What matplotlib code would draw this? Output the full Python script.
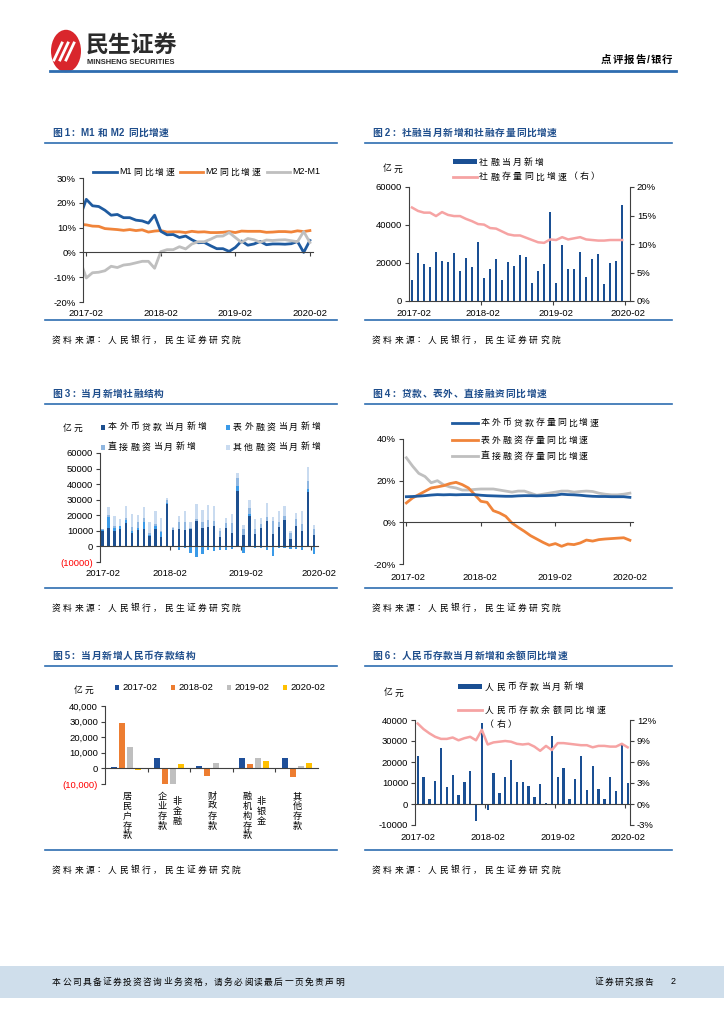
import numpy as np
import matplotlib.pyplot as plt
from matplotlib.lines import Line2D
from matplotlib.patches import Rectangle, Circle
from matplotlib.ticker import FuncFormatter
from matplotlib.transforms import blended_transform_factory

plt.rcParams['font.family'] = ['Liberation Sans', 'Noto Sans CJK SC', 'DejaVu Sans']
plt.rcParams['axes.unicode_minus'] = False

date_ticks = ["2017-02", "2018-02", "2019-02", "2020-02"]

# 图1 M1/M2, 2017-01 ~ 2020-02 (%)
m1_yoy = [14.5, 21.4, 18.8, 18.5, 17.0, 15.0, 15.3, 14.0, 14.0, 13.0, 12.7, 11.8,
          15.0, 8.5, 7.1, 7.2, 6.0, 6.6, 5.1, 3.9, 4.0, 2.7, 1.5, 1.5,
          0.4, 2.0, 4.6, 2.9, 3.4, 4.4, 3.1, 3.4, 3.4, 3.3, 3.5, 4.4,
          0.0, 4.8]
m2_yoy = [11.3, 11.1, 10.6, 10.5, 9.6, 9.4, 9.2, 8.9, 9.2, 8.8, 9.1, 8.2,
          8.6, 8.8, 8.2, 8.3, 8.3, 8.0, 8.5, 8.2, 8.3, 8.0, 8.0, 8.1,
          8.4, 8.0, 8.6, 8.5, 8.5, 8.5, 8.1, 8.2, 8.4, 8.4, 8.2, 8.7,
          8.4, 8.8]
m2_m1 = [-3.2, -10.3, -8.2, -8.0, -7.4, -5.6, -6.1, -5.1, -4.8, -4.2, -3.6, -3.6,
         -6.4, 0.3, 1.1, 1.1, 2.3, 1.4, 3.4, 4.3, 4.3, 5.3, 6.5, 6.6,
         8.0, 6.0, 4.0, 5.6, 5.1, 4.1, 5.0, 4.8, 5.0, 5.1, 4.7, 4.3,
         8.4, 4.0]

# 图2 社融, 2017-02 ~ 2020-01
tsf_new = [11000, 25300, 19500, 17800, 25700, 21000, 20500, 25300, 15700, 22800, 18000,
           31200, 12000, 17000, 22000, 11000, 20300, 18300, 24000, 23000, 9500, 16000, 19400,
           47000, 9700, 29600, 16600, 17000, 26000, 12700, 22000, 25000, 8700, 20000, 21000,
           50700]
tsf_yoy = [16.4, 15.8, 15.5, 15.5, 14.9, 15.6, 15.1, 14.9, 14.9, 14.4, 14.0,
           13.5, 13.4, 12.8, 12.7, 12.2, 11.7, 11.5, 11.5, 11.1, 10.7, 10.3, 10.2,
           10.8, 10.7, 11.2, 10.8, 11.0, 11.2, 10.8, 10.7, 10.6, 10.6, 10.7, 10.7,
           10.7]

# 图3 社融结构, 2017-02 ~ 2020-02
loan_new = [10000, 11800, 10000, 11400, 14800, 8700, 10400, 11000, 6600, 11200, 5800,
            27000, 10400, 11000, 10600, 11000, 16200, 12000, 12700, 13400, 6300, 11600, 8800,
            35700, 7500, 19500, 8300, 11800, 16600, 7700, 12500, 17000, 5000, 13300, 10200,
            35000, 7500]
offbal_new = [500, 7000, 2000, 1500, 2000, 1000, 1500, 4500, 500, 2000, 3500,
              1000, -500, -2500, -1000, -4500, -7000, -5000, -2500, -3000, -2500, -2000, -1500,
              3000, -4000, 1500, -1000, -1000, -2000, -6000, -1000, -1000, -1500, -1500, -2000,
              2000, -5000]
direct_new = [500, 1500, 1000, 500, 1500, 3000, 3500, 2500, 1500, 1500, 500,
              1500, 1500, 5000, 5000, 1000, 1500, 3500, 4000, 3000, 3500, 3500, 6000,
              5000, 4000, 3500, 3000, 2500, 2500, 8500, 3000, 2500, 3500, 4000, 4000,
              5000, 4000]
other_new = [0, 5000, 6500, 4400, 7400, 8300, 5100, 7300, 7100, 8100, 8200,
             1700, 600, 3500, 7400, 3500, 9600, 7800, 9800, 9600, 2200, 2900, 6100,
             3300, 2200, 5100, 6300, 3700, 8900, 2500, 7500, 6500, 1700, 4200, 8800,
             8700, 2000]

# 图4 存量同比, 2017-02 ~ 2020-02 (%)
loan_yoy = [12.3, 12.4, 12.6, 12.8, 13.1, 13.3, 13.2, 13.3, 13.2, 13.3, 13.3,
            13.3, 13.0, 12.8, 12.7, 12.6, 12.5, 12.5, 12.7, 12.8, 12.8, 12.7, 12.8,
            12.9, 13.0, 13.5, 13.3, 13.2, 13.0, 12.7, 12.5, 12.4, 12.4, 12.3, 12.3,
            12.3, 12.0]
offbal_yoy = [9.3, 11.7, 13.3, 14.9, 16.5, 17.0, 17.6, 18.6, 19.2, 18.1, 16.5,
              13.3, 10.1, 9.6, 5.6, 4.5, 2.9, -0.3, -2.4, -4.3, -6.4, -8.0, -9.6,
              -11.0, -10.2, -11.5, -10.4, -10.7, -9.9, -8.5, -9.0, -8.3, -8.0, -7.8, -7.6,
              -7.4, -8.6]
direct_yoy = [31.0, 27.0, 23.5, 22.0, 19.0, 20.0, 18.0, 17.0, 16.5, 15.5, 15.5,
              15.8, 16.0, 16.0, 16.0, 15.5, 15.0, 14.5, 15.0, 15.0, 14.0, 13.0, 13.5,
              14.0, 14.5, 15.0, 15.0, 14.5, 14.8, 15.0, 14.8, 14.0, 13.5, 13.2, 13.2,
              13.5, 14.0]

# 图5 存款结构 (亿元)
dep_years = ["2017-02", "2018-02", "2019-02", "2020-02"]
dep_2017 = [1000, 6800, 1500, 6900, 6900]
dep_2018 = [29000, -10400, -5000, 3000, -5500]
dep_2019 = [13500, -10300, 3200, 6800, 1700]
dep_2020 = [-1000, 2700, 0, 4800, 3300]

# 图6 人民币存款, 2017-02 ~ 2020-02
dep_new = [23000, 12700, 2500, 11000, 26500, 8000, 13600, 4200, 10500, 15700, -8000,
           38500, -3000, 15000, 5200, 12800, 20800, 10300, 10700, 8800, 3300, 9300, 700,
           32500, 13000, 17000, 2500, 12000, 22700, 6500, 18000, 7200, 2300, 13000, 6000,
           28500, 10000]
dep_yoy = [11.5, 10.7, 10.1, 9.6, 9.3, 9.3, 9.5, 9.1, 9.4, 9.6, 9.1,
           10.6, 8.5, 8.8, 8.9, 9.0, 8.9, 8.6, 8.5, 8.6, 8.2, 7.6, 8.3,
           7.7, 8.7, 8.7, 8.6, 8.5, 8.4, 8.4, 8.1, 8.3, 8.3, 8.2, 8.2,
           8.6, 8.1]

BLUE = "#1F5BA0"
NAVY = "#1A4F93"
ORANGE = "#F0843A"
GRAY = "#BFBFBF"
PINK = "#F6A3A3"
TITLE_C = "#1F4E8C"
LINE_C = "#2E6DB0"
AXC = "#404040"
TICK_FS = 6.8
LEG_FS = 6.4
LEG_P = 11.2

W, H = 724, 1024
fig = plt.figure(figsize=(W / 100, H / 100), dpi=100)
renderer = fig.canvas.get_renderer()


def px_axes(x0, y0, x1, y1):
    return fig.add_axes([x0 / W, 1 - y1 / H, (x1 - x0) / W, (y1 - y0) / H])


def ftext(x, y, s, **kw):
    kw.setdefault('va', 'center')
    return fig.text(x / W, 1 - y / H, s, **kw)


def spaced(x, y, s, pitch, fontsize, **kw):
    # CJK text in the report is set with wide letter spacing;
    # runs of latin characters are kept together and measured
    em = fontsize * 100 / 72
    gap = max(pitch - em, 0)

    def flush(x, run):
        if not run:
            return x
        t = ftext(x, y, run, ha='left', fontsize=fontsize, **kw)
        return x + t.get_window_extent(renderer=renderer).width + gap * 0.6

    run = ''
    for ch in s:
        if ord(ch) > 0x2E80:
            x = flush(x, run)
            run = ''
            ftext(x, y, ch, ha='left', fontsize=fontsize, **kw)
            x += pitch
        else:
            run += ch
    flush(x, run)


def fline(x0, x1, y, **kw):
    fig.add_artist(Line2D([x0 / W, x1 / W], [1 - y / H, 1 - y / H], **kw))


def fbox(x0, y0, w, h, color):
    fig.add_artist(Rectangle((x0 / W, 1 - (y0 + h) / H), w / W, h / H,
                             facecolor=color, lw=0))


def section(x0, x1, y_title, y_bottom, title):
    spaced(x0 + 7, y_title, title, 10.4, 7, fontweight='bold', color=TITLE_C)
    fline(x0, x1, y_title + 10, color=LINE_C, lw=1.2)
    fline(x0, x1, y_bottom, color=LINE_C, lw=1.2)
    spaced(x0 + 7, y_bottom + 20, "资料来源：人民银行，民生证券研究院", 11.2, 6.3)


def base_axes(ax, zero=True):
    ax.set_facecolor('none')
    ax.spines['top'].set_visible(False)
    ax.spines['right'].set_visible(False)
    for s in ('left', 'bottom'):
        ax.spines[s].set_color(AXC)
        ax.spines[s].set_linewidth(0.8)
    if zero:
        ax.spines['bottom'].set_position(('data', 0))
    ax.tick_params(direction='out', length=3, width=0.8, color=AXC,
                   labelsize=TICK_FS, pad=2)
    ax.tick_params(axis='x', labelbottom=False)


def right_axis(axr):
    axr.set_facecolor('none')
    for s in ('top', 'left', 'bottom'):
        axr.spines[s].set_visible(False)
    axr.spines['right'].set_color(AXC)
    axr.spines['right'].set_linewidth(0.8)
    axr.tick_params(direction='out', length=3, width=0.8, color=AXC,
                    labelsize=TICK_FS, pad=2)


def date_labels(ax, xs, y_px):
    tr = blended_transform_factory(ax.transData, fig.transFigure)
    for x, lab in zip(xs, date_ticks):
        ax.text(x, 1 - y_px / H, lab, transform=tr, ha='center', va='center',
                fontsize=TICK_FS)


pct = FuncFormatter(lambda v, p: f"{v:.0f}%")

# ---------------- header / footer ----------------
fig.add_artist(Circle((66 / W, 1 - 51 / H), 15 / W, facecolor="#D9262C",
                      transform=fig.transFigure))
for dx in (-6, 0, 6):
    fig.add_artist(Line2D([(60 + dx) / W, (68 + dx) / W], [1 - 60 / H, 1 - 43 / H],
                          color='white', lw=2))
ftext(86, 46, "民生证券", fontsize=16.5, fontweight='bold', color="#2B2B2B")
ftext(87, 63, "MINSHENG SECURITIES", fontsize=5.4, fontweight='bold', color="#2B2B2B")
spaced(601, 60, "点评报告/银行", 11.5, 7.5, fontweight='bold')
fline(50, 676, 71, color=LINE_C, lw=2)

fbox(0, 966, W, 32, "#CFDEEB")
spaced(52, 982, "本公司具备证券投资咨询业务资格，请务必阅读最后一页免责声明", 10.1, 6.3)
spaced(595, 982, "证券研究报告", 9.9, 6.3)
ftext(673, 982, "2", fontsize=6.5, ha='center')

# ---------------- 图1 ----------------
section(45, 337, 133, 320, "图 1：M1 和 M2 同比增速")
ax1 = px_axes(83, 178, 313, 302)
base_axes(ax1)
x1 = np.arange(len(m1_yoy))
ax1.plot(x1, m2_yoy, color=ORANGE, lw=2)
ax1.plot(x1, m1_yoy, color=BLUE, lw=2)
ax1.plot(x1, m2_m1, color=GRAY, lw=2)
ax1.set_xlim(0.47, 37.5)
ax1.set_ylim(-20, 30)
ax1.set_yticks(range(-20, 31, 10))
ax1.yaxis.set_major_formatter(pct)
ax1.set_xticks([1, 13, 25, 37])
date_labels(ax1, [1, 13, 25, 37], 313)
for (a, b, t, c) in [(93, 117, "M1同比增速", BLUE), (180, 203, "M2同比增速", ORANGE),
                     (267, 290, "M2-M1", GRAY)]:
    fline(a, b, 172, color=c, lw=2)
    spaced(b + 2, 172, t, 11, LEG_FS)

# ---------------- 图2 ----------------
section(365, 672, 133, 320, "图 2：社融当月新增和社融存量同比增速")
ax2 = px_axes(409, 187, 630, 301)
base_axes(ax2, zero=False)
x2 = np.arange(len(tsf_new))
ax2.bar(x2, tsf_new, width=0.4, color=NAVY)
ax2.set_xlim(-0.5, 36.3)
ax2.set_ylim(0, 60000)
ax2.set_yticks(range(0, 60001, 20000))
ax2.set_xticks([11.5, 23.5, 35.5])
ax2r = ax2.twinx()
right_axis(ax2r)
ax2r.plot(x2, tsf_yoy, color=PINK, lw=1.8)
ax2r.set_ylim(0, 20)
ax2r.set_yticks(range(0, 21, 5))
ax2r.yaxis.set_major_formatter(pct)
date_labels(ax2, [0.3, 11.8, 24, 36], 313)
spaced(383, 169, "亿元", 10.5, 6.3)
fbox(453, 159, 24, 5, NAVY)
spaced(479, 162, "社融当月新增", LEG_P, LEG_FS)
fline(453, 477, 177, color=PINK, lw=2)
spaced(479, 177, "社融存量同比增速（右）", LEG_P, LEG_FS)

# ---------------- 图3 ----------------
section(45, 337, 394, 588, "图 3：当月新增社融结构")
ax3 = px_axes(100, 453, 318, 562)
base_axes(ax3)
x3 = np.arange(len(loan_new))
loan_a = np.array(loan_new)
off_a = np.array(offbal_new)
off_pos = np.clip(off_a, 0, None)
off_neg = np.clip(off_a, None, 0)
c3 = ["#1D4F8F", "#3A9AE8", "#8FB6E0", "#C9DBF0"]
ax3.bar(x3, loan_a, width=0.4, color=c3[0])
ax3.bar(x3, off_pos, bottom=loan_a, width=0.4, color=c3[1])
ax3.bar(x3, off_neg, width=0.4, color=c3[1])
ax3.bar(x3, direct_new, bottom=loan_a + off_pos, width=0.4, color=c3[2])
ax3.bar(x3, other_new, bottom=loan_a + off_pos + np.array(direct_new), width=0.4, color=c3[3])
ax3.set_xlim(-0.45, 36.7)
ax3.set_ylim(-10000, 60000)
ax3.set_yticks(range(-10000, 60001, 10000),
               labels=["(10000)", "0", "10000", "20000", "30000", "40000", "50000", "60000"])
ax3.get_yticklabels()[0].set_color('red')
ax3.set_xticks([11.5, 23.5, 35.5])
date_labels(ax3, [0.1, 11.4, 24.4, 36.8], 573)
spaced(63, 428, "亿元", 10.5, 6.3)
for (x, y, t, c) in [(103, 427, "本外币贷款当月新增", c3[0]), (228, 427, "表外融资当月新增", c3[1]),
                     (103, 447, "直接融资当月新增", c3[2]), (228, 447, "其他融资当月新增", c3[3])]:
    fbox(x - 2, y - 2.5, 4, 5, c)
    spaced(x + 5, y, t, LEG_P, LEG_FS)

# ---------------- 图4 ----------------
section(365, 672, 394, 588, "图 4：贷款、表外、直接融资同比增速")
ax4 = px_axes(403, 439, 633, 564)
base_axes(ax4)
x4 = np.arange(len(loan_yoy))
ax4.plot(x4, direct_yoy, color=GRAY, lw=2)
ax4.plot(x4, offbal_yoy, color=ORANGE, lw=2)
ax4.plot(x4, loan_yoy, color=BLUE, lw=2)
ax4.set_xlim(-0.54, 36.5)
ax4.set_ylim(-20, 40)
ax4.set_yticks(range(-20, 41, 20))
ax4.yaxis.set_major_formatter(pct)
ax4.set_xticks([0, 12, 24, 36])
date_labels(ax4, [0.2, 11.8, 24, 36], 578)
for (y, t, c) in [(423, "本外币贷款存量同比增速", BLUE), (440, "表外融资存量同比增速", ORANGE),
                  (456, "直接融资存量同比增速", GRAY)]:
    fline(452, 478, y, color=c, lw=2)
    spaced(481, y, t, 10.9, LEG_FS)

# ---------------- 图5 ----------------
section(45, 337, 656, 850, "图 5：当月新增人民币存款结构")
ax5 = px_axes(105, 706, 318, 784)
base_axes(ax5)
x5 = np.arange(5)
c5 = ["#1F4F99", "#ED7D31", "#BFBFBF", "#FFC000"]
for i, vals in enumerate([dep_2017, dep_2018, dep_2019, dep_2020]):
    ax5.bar(x5 + (i - 1.5) * 0.19, vals, width=0.14, color=c5[i])
ax5.set_xlim(-0.5, 4.5)
ax5.set_ylim(-10000, 40000)
ax5.set_yticks(range(-10000, 40001, 10000),
               labels=["(10,000)", "0", "10,000", "20,000", "30,000", "40,000"])
ax5.get_yticklabels()[0].set_color('red')
ax5.set_xticks([0.5, 1.5, 2.5, 3.5])
spaced(74, 690, "亿元", 10.5, 6.3)
for (x, t, c) in zip([117, 173, 229, 285], dep_years, c5):
    fbox(x - 2, 684.5, 4, 5, c)
    ftext(x + 5, 687, t, fontsize=LEG_FS + 0.4)
cat_cols = [(127, 792, "居民户存款"), (162, 792, "企业存款"), (177, 797, "非金融"),
            (212, 792, "财政存款"), (247, 792, "融机构存款"), (261, 797, "非银金"),
            (297, 792, "其他存款")]
for (x, y, t) in cat_cols:
    ftext(x, y, "\n".join(t), fontsize=6.6, ha='center', va='top', linespacing=1.12)

# ---------------- 图6 ----------------
section(365, 672, 656, 850, "图 6：人民币存款当月新增和余额同比增速")
ax6 = px_axes(415, 720, 630, 825)
base_axes(ax6)
x6 = np.arange(len(dep_new))
ax6.bar(x6, dep_new, width=0.4, color=NAVY)
ax6.set_xlim(-0.46, 36.4)
ax6.set_ylim(-10000, 40000)
ax6.set_yticks(range(-10000, 40001, 10000))
ax6.set_xticks([11.5, 23.5, 35.5])
ax6r = ax6.twinx()
right_axis(ax6r)
ax6r.plot(x6, dep_yoy, color=PINK, lw=1.8)
ax6r.set_ylim(-3, 12)
ax6r.set_yticks(range(-3, 13, 3))
ax6r.yaxis.set_major_formatter(pct)
date_labels(ax6, [0.1, 12, 24, 36], 838)
spaced(384, 693, "亿元", 10.5, 6.3)
fbox(458, 684, 24, 5, NAVY)
spaced(485, 687, "人民币存款当月新增", LEG_P, LEG_FS)
fline(458, 482, 710, color=PINK, lw=2)
spaced(485, 710, "人民币存款余额同比增速", LEG_P, LEG_FS)
spaced(485, 725, "（右）", LEG_P, LEG_FS)

fig.savefig("out.png", dpi=100)
